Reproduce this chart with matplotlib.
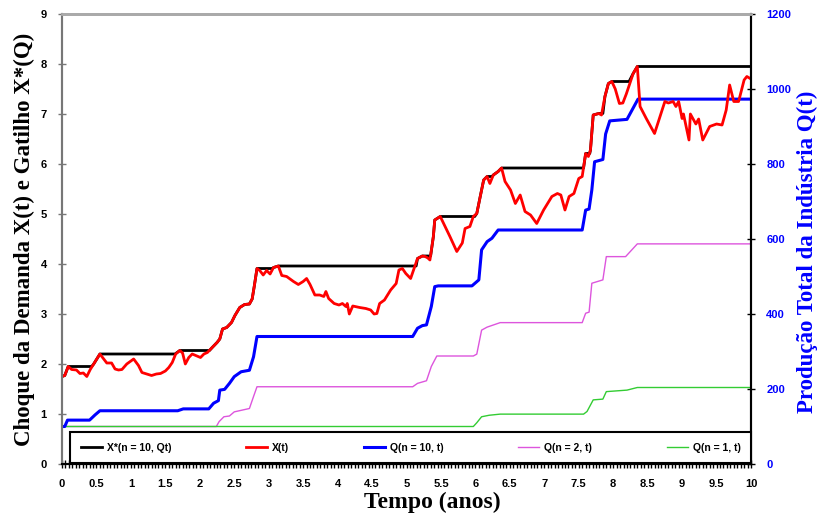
import matplotlib
matplotlib.use("Agg")
import matplotlib.pyplot as plt
from matplotlib.ticker import MultipleLocator, FuncFormatter
from matplotlib.lines import Line2D

# Demand shock X(t), left axis
t_x = [0, 0.04, 0.09, 0.14, 0.21, 0.26, 0.31, 0.36, 0.41, 0.46, 0.55, 0.6, 0.65, 0.72,
       0.77, 0.82, 0.87, 0.94, 1.04, 1.11, 1.16, 1.23, 1.3, 1.37, 1.43, 1.5, 1.55, 1.6,
       1.65, 1.71, 1.75, 1.79, 1.84, 1.89, 1.94, 2.01, 2.06, 2.11, 2.18, 2.25, 2.29, 2.33,
       2.39, 2.46, 2.51, 2.58, 2.65, 2.72, 2.76, 2.79, 2.83, 2.87, 2.92, 2.97, 3.02, 3.07,
       3.14, 3.19, 3.26, 3.36, 3.43, 3.5, 3.55, 3.6, 3.67, 3.74, 3.8, 3.83, 3.87, 3.95,
       4.02, 4.07, 4.12, 4.14, 4.17, 4.22, 4.32, 4.41, 4.48, 4.53, 4.57, 4.61, 4.68, 4.77,
       4.85, 4.89, 4.94, 4.99, 5.06, 5.11, 5.16, 5.23, 5.27, 5.31, 5.34, 5.39, 5.41, 5.49,
       5.56, 5.63, 5.73, 5.81, 5.85, 5.92, 5.97, 6.02, 6.07, 6.12, 6.17, 6.21, 6.26, 6.33,
       6.38, 6.43, 6.51, 6.58, 6.65, 6.72, 6.8, 6.89, 6.99, 7.11, 7.19, 7.24, 7.3, 7.36,
       7.43, 7.5, 7.55, 7.6, 7.64, 7.67, 7.71, 7.79, 7.83, 7.88, 7.93, 7.98, 8.03, 8.09,
       8.14, 8.19, 8.29, 8.35, 8.39, 8.48, 8.6, 8.67, 8.75, 8.8, 8.87, 8.91, 8.95, 9.0,
       9.02, 9.1, 9.12, 9.2, 9.24, 9.3, 9.4, 9.5, 9.58, 9.64, 9.69, 9.75, 9.82, 9.9,
       9.94, 10.0]
x_t = [1.75, 1.77, 1.95, 1.89, 1.88, 1.81, 1.82, 1.75, 1.89, 2.0, 2.2, 2.11, 2.02, 2.02,
       1.9, 1.88, 1.89, 2.0, 2.1, 1.97, 1.83, 1.8, 1.77, 1.8, 1.81, 1.86, 1.93, 2.03,
       2.2, 2.27, 2.22, 2.0, 2.13, 2.2, 2.17, 2.13, 2.2, 2.23, 2.33, 2.43, 2.5, 2.7,
       2.73, 2.83, 2.97, 3.13, 3.19, 3.2, 3.3, 3.55, 3.91, 3.87, 3.78, 3.87, 3.8, 3.93,
       3.96, 3.77, 3.75, 3.65, 3.59, 3.65, 3.71, 3.59, 3.38, 3.38, 3.35, 3.45, 3.31, 3.21,
       3.18, 3.21, 3.15, 3.21, 3.0, 3.16, 3.13, 3.11, 3.08, 3.0, 3.01, 3.21, 3.28, 3.48,
       3.61, 3.88, 3.91, 3.81, 3.71, 3.91, 4.11, 4.16, 4.15, 4.12, 4.08, 4.55, 4.88, 4.95,
       4.75, 4.55, 4.25, 4.42, 4.71, 4.75, 4.95, 5.01, 5.35, 5.68, 5.75, 5.61, 5.78, 5.85,
       5.92, 5.65, 5.48, 5.21, 5.38, 5.05, 4.98, 4.81, 5.08, 5.35, 5.41, 5.38, 5.08, 5.35,
       5.41, 5.71, 5.75, 6.21, 6.15, 6.28, 6.98, 7.01, 6.98, 7.35, 7.61, 7.65, 7.5, 7.21,
       7.22, 7.4, 7.81, 7.95, 7.15, 6.91, 6.61, 6.91, 7.25, 7.22, 7.25, 7.15, 7.25, 6.91,
       7.0, 6.48, 7.0, 6.8, 6.9, 6.48, 6.75, 6.8, 6.78, 7.08, 7.58, 7.25, 7.25, 7.68,
       7.75, 7.7]

# Trigger X*(n = 10, Qt)
t_trig = [0, 0.04, 0.09, 0.43, 0.46, 0.55, 1.64, 1.71, 2.14, 2.18, 2.25, 2.29, 2.33, 2.39,
          2.46, 2.51, 2.58, 2.65, 2.72, 2.76, 2.79, 2.83, 3.05, 3.07, 3.14, 5.14, 5.16,
          5.23, 5.35, 5.39, 5.41, 5.49, 5.99, 6.02, 6.07, 6.12, 6.17, 6.24, 6.26, 6.33,
          6.38, 7.57, 7.6, 7.66, 7.67, 7.71, 7.79, 7.85, 7.88, 7.93, 7.98, 8.23, 8.29,
          8.35, 10.0]
x_trig = [1.75, 1.77, 1.95, 1.95, 2.0, 2.2, 2.2, 2.27, 2.27, 2.33, 2.43, 2.5, 2.7, 2.73,
          2.83, 2.97, 3.13, 3.19, 3.2, 3.3, 3.55, 3.91, 3.91, 3.93, 3.96, 3.96, 4.11,
          4.16, 4.16, 4.55, 4.88, 4.95, 4.95, 5.01, 5.35, 5.68, 5.75, 5.75, 5.78, 5.85,
          5.92, 5.92, 6.21, 6.21, 6.28, 6.98, 7.01, 7.01, 7.35, 7.61, 7.65, 7.65, 7.81,
          7.95, 7.95]

# Industry output Q(t), right axis
t_q10 = [0, 0.04, 0.08, 0.4, 0.48, 0.55, 1.68, 1.76, 2.13, 2.2, 2.27, 2.29, 2.36, 2.43,
         2.5, 2.6, 2.72, 2.78, 2.83, 5.09, 5.16, 5.23, 5.29, 5.36, 5.41, 5.46, 5.95, 6.05,
         6.09, 6.17, 6.24, 6.33, 7.55, 7.6, 7.65, 7.69, 7.73, 7.85, 7.89, 7.95, 8.2, 8.36, 10.0]
q10 = [100, 100, 117, 117, 131, 142, 142, 147, 147, 162, 169, 197, 199, 215,
       233, 246, 250, 286, 340, 340, 362, 369, 371, 420, 473, 475, 475, 491,
       571, 593, 602, 624, 624, 677, 680, 731, 806, 812, 880, 915, 919, 973, 973]

t_q2 = [0, 2.24, 2.28, 2.35, 2.43, 2.5, 2.72, 2.78, 2.83, 5.09, 5.16, 5.29, 5.36, 5.44,
        5.97, 6.02, 6.09, 6.17, 6.36, 7.55, 7.6, 7.65, 7.69, 7.85, 7.9, 8.18, 8.35, 10.0]
q2 = [100, 100, 113, 126, 128, 139, 148, 180, 206, 206, 215, 222, 260, 288,
      288, 293, 357, 365, 377, 377, 402, 405, 482, 491, 553, 553, 587, 587]

t_q1 = [0, 5.97, 6.02, 6.09, 6.2, 6.36, 7.57, 7.62, 7.71, 7.85, 7.9, 8.2, 8.35, 10.0]
q1 = [100, 100, 110, 126, 130, 133, 133, 140, 171, 173, 193, 197, 204, 204]

labels = ["X*(n = 10, Qt)", "X(t)", "Q(n = 10, t)", "Q(n = 2, t)", "Q(n = 1, t)"]

tick_font = {"family": "Liberation Sans", "weight": "bold", "size": 8}

fig = plt.figure(figsize=(8.25, 5.19), dpi=100)
ax = fig.add_axes([62 / 825, 55 / 519, 689 / 825, 450 / 519])
ax2 = ax.twinx()

ax2.plot(t_q2, q2, color="#dd55dd", lw=1.0)
ax2.plot(t_q1, q1, color="#33cc33", lw=1.0)
ax2.plot(t_q10, q10, color="#0000ff", lw=2.2)

ax.plot(t_trig, x_trig, color="black", lw=2.0)
ax.plot(t_x, x_t, color="#ff0000", lw=2.0)

ax.set_zorder(ax2.get_zorder() + 1)
ax.patch.set_visible(False)

ax.set_xlim(0, 10)
ax.set_ylim(0, 9)
ax2.set_ylim(0, 1200)
ax.xaxis.set_major_locator(MultipleLocator(0.5))
ax.xaxis.set_minor_locator(MultipleLocator(0.05))
ax.xaxis.set_major_formatter(FuncFormatter(lambda v, p: "%g" % v))
ax.yaxis.set_major_locator(MultipleLocator(1))
ax2.yaxis.set_major_locator(MultipleLocator(200))

ax.tick_params(axis="x", which="both", direction="inout", length=6, width=1, pad=8)
ax.tick_params(axis="y", direction="inout", length=6, width=1, color="#777777", pad=8)
ax2.tick_params(axis="y", direction="inout", length=6, width=1, pad=8, labelcolor="#0000ff")
for lab in ax.get_xticklabels() + ax.get_yticklabels() + ax2.get_yticklabels():
    lab.set_fontproperties(tick_font)

for a in (ax, ax2):
    a.spines["left"].set_color("#777777")
    a.spines["top"].set_color("#aaaaaa")
    a.spines["top"].set_linewidth(2)
    a.spines["right"].set_color("black")
    a.spines["right"].set_linewidth(1.5)
    a.spines["bottom"].set_linewidth(1.5)
    a.spines["left"].set_linewidth(1.5)

serif = {"family": "Liberation Serif", "weight": "bold", "size": 16.5}
ax.set_xlabel("Tempo (anos)", fontdict={"family": "Liberation Serif", "weight": "bold", "size": 17})
ax.xaxis.set_label_coords(0.537, -0.061)
ax.set_ylabel("Choque da Demanda X(t) e Gatilho X*(Q)", fontdict=serif, labelpad=4)
ax2.set_ylabel("Produção Total da Indústria Q(t)", fontdict=serif, color="#0000ff")
ax2.yaxis.set_label_coords(1.066, 0.471)

handles = [Line2D([], [], color="black", lw=2),
           Line2D([], [], color="#ff0000", lw=2),
           Line2D([], [], color="#0000ff", lw=2.2),
           Line2D([], [], color="#dd55dd", lw=1),
           Line2D([], [], color="#33cc33", lw=1)]
leg = ax.legend(handles, labels, ncol=5, loc="lower left", mode="expand",
                bbox_to_anchor=(0.012, 0.002, 0.988, 0.064),
                prop={"family": "Liberation Sans", "weight": "bold", "size": 7.5},
                handlelength=2.0, handletextpad=0.5, borderaxespad=0, borderpad=1.0,
                fancybox=False, framealpha=1, edgecolor="black")
leg.get_frame().set_linewidth(1.5)

fig.savefig("out.png", dpi=100)
